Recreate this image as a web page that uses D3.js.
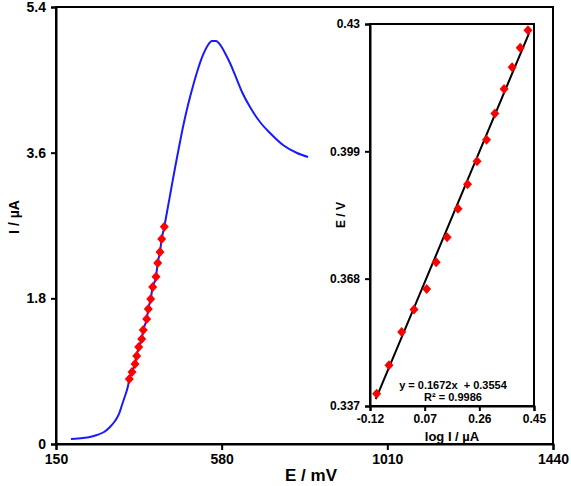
<!DOCTYPE html>
<html>
<head>
<meta charset="utf-8">
<script src="https://cdn.jsdelivr.net/npm/d3@7"></script>
<style>
  html, body { margin: 0; padding: 0; background: #fff; }
  svg { display: block; font-family: "Liberation Sans", Arial, sans-serif; font-weight: bold; }
</style>
</head>
<body>
<svg id="chart" width="571" height="486"></svg>
<script>
// ---- Main voltammogram (E / mV vs I / µA) ----
const curveE = [188.9, 207.1, 220.1, 238.3, 256.4, 274.6, 290.2, 303.1, 313.5, 321.3, 329.1, 336.9,
  340.3, 347.3, 355.1, 359.5, 364.7, 372.4, 376.6, 385.4, 389.6, 395.8, 401.0, 409.6, 414.0, 419.9, 424.3, 431.1,
  438.1, 448.5, 458.9, 469.3, 479.6, 492.6, 505.6, 518.6, 531.6, 544.6, 554.9, 565.3, 578.3, 591.3, 601.6, 614.6, 632.8,
  653.6, 679.5, 705.5, 739.2, 775.5, 804.1];
const curveI = [0.062, 0.068, 0.074, 0.087, 0.111, 0.148, 0.210, 0.284, 0.371, 0.482, 0.593, 0.717,
  0.803, 0.890, 0.989, 1.087, 1.199, 1.297, 1.409, 1.545, 1.668, 1.792, 1.940, 2.067, 2.237, 2.373, 2.533, 2.685,
  2.867, 3.139, 3.411, 3.670, 3.917, 4.189, 4.424, 4.634, 4.807, 4.931, 4.980, 4.980, 4.918, 4.807, 4.708, 4.560, 4.350,
  4.164, 3.979, 3.843, 3.695, 3.596, 3.546];
// highlighted points (red diamonds) on the rising part
const markE = [340.3, 347.3, 355.1, 359.5, 364.7, 372.4, 376.6, 385.4, 389.6, 395.8, 401.0, 409.6, 414.0, 419.9, 424.3, 431.1];
const markI = [0.803, 0.890, 0.989, 1.087, 1.199, 1.297, 1.409, 1.545, 1.668, 1.792, 1.940, 2.067, 2.237, 2.373, 2.533, 2.685];
const mainXTicks = [150, 580, 1010, 1440];
const mainYTicks = [0, 1.8, 3.6, 5.4];

// ---- Inset (log I / µA vs E / V) ----
const logI = [-0.097, -0.054, -0.010, 0.033, 0.077, 0.110, 0.148, 0.186, 0.219, 0.252, 0.285, 0.314, 0.346, 0.374, 0.402, 0.429];
const insetE = [0.3400, 0.3469, 0.3550, 0.3605, 0.3655, 0.3720, 0.3781, 0.3850, 0.3910, 0.3966, 0.4018, 0.4082, 0.4142, 0.4195, 0.4242, 0.4285];
const insetXTicks = [-0.12, 0.07, 0.26, 0.45];
const insetYTicks = [0.337, 0.368, 0.399, 0.43];
const fitSlope = [0.1672];
const fitIntercept = [0.3554];
const fitRange = [-0.100, 0.433];
const eqLines = ["y = 0.1672x  + 0.3554", "R\u00b2 = 0.9986"];

const svg = d3.select("#chart");

// main scales
const x = d3.scaleLinear().domain([150, 1440]).range([56, 553]);
const y = d3.scaleLinear().domain([0, 5.4]).range([444, 7]);

// frame (top and right)
svg.append("rect").attr("x", 56).attr("y", 7).attr("width", 553 - 56).attr("height", 444 - 7)
  .attr("fill", "none").attr("stroke", "#000").attr("stroke-width", 2);

const xAxis = svg.append("g").attr("transform", "translate(0,444)")
  .call(d3.axisBottom(x).tickValues(mainXTicks).tickFormat(d3.format("d")).tickSize(6).tickPadding(4));
const yAxis = svg.append("g").attr("transform", "translate(56,0)")
  .call(d3.axisLeft(y).tickValues(mainYTicks).tickFormat(d => d === 0 ? "0" : d3.format(".1f")(d)).tickSize(5).tickPadding(5));
[xAxis, yAxis].forEach(g => {
  g.select(".domain").attr("stroke-width", 2);
  g.selectAll(".tick line").attr("stroke-width", 2);
  g.selectAll("text").attr("font-size", 14).attr("font-weight", "bold").attr("fill", "#000")
    .attr("font-family", "Liberation Sans, Arial, sans-serif");
});

svg.append("text").attr("x", 311).attr("y", 481).attr("text-anchor", "middle")
  .attr("font-size", 17).text("E / mV");
svg.append("text").attr("transform", "translate(19,217) rotate(-90)").attr("text-anchor", "middle")
  .attr("font-size", 14).text("I / \u00b5A");

// blue curve
const line = d3.line().x((d, i) => x(curveE[i])).y((d, i) => y(curveI[i])).curve(d3.curveMonotoneX);
svg.append("path").datum(curveE).attr("d", line).attr("fill", "none")
  .attr("stroke", "#1a1aff").attr("stroke-width", 2);

const diamond = "M0,-5L4.5,0L0,5L-4.5,0Z";
svg.append("g").selectAll("path").data(markE).join("path")
  .attr("d", diamond).attr("fill", "#ff0000")
  .attr("transform", (d, i) => `translate(${x(d)},${y(markI[i])})`);

// ---- inset ----
const ix = d3.scaleLinear().domain([-0.12, 0.45]).range([370, 534]);
const iy = d3.scaleLinear().domain([0.337, 0.43]).range([406, 24]);

svg.append("rect").attr("x", 370).attr("y", 24).attr("width", 534 - 370).attr("height", 406 - 24)
  .attr("fill", "#fff").attr("stroke", "#000").attr("stroke-width", 2);

const ixAxis = svg.append("g").attr("transform", "translate(0,406)")
  .call(d3.axisBottom(ix).tickValues(insetXTicks).tickFormat(d3.format(".2f")).tickSize(5).tickPadding(3));
const iyAxis = svg.append("g").attr("transform", "translate(370,0)")
  .call(d3.axisLeft(iy).tickValues(insetYTicks).tickFormat(d => String(d)).tickSize(5).tickPadding(5));
[ixAxis, iyAxis].forEach(g => {
  g.select(".domain").attr("stroke-width", 2);
  g.selectAll(".tick line").attr("stroke-width", 2);
  g.selectAll("text").attr("font-size", 12).attr("font-weight", "bold").attr("fill", "#000")
    .attr("font-family", "Liberation Sans, Arial, sans-serif");
});
ixAxis.selectAll("text").text(d => d3.format(".2f")(d).replace("\u2212", "-"));

svg.append("text").attr("x", 452).attr("y", 441).attr("text-anchor", "middle")
  .attr("font-size", 13).text("log I / \u00b5A");
svg.append("text").attr("transform", "translate(345,215) rotate(-90)").attr("text-anchor", "middle")
  .attr("font-size", 12).text("E / V");

// fitted line
svg.append("line")
  .attr("x1", ix(fitRange[0])).attr("y1", iy(fitSlope[0] * fitRange[0] + fitIntercept[0]))
  .attr("x2", ix(fitRange[1])).attr("y2", iy(fitSlope[0] * fitRange[1] + fitIntercept[0]))
  .attr("stroke", "#000").attr("stroke-width", 2);

svg.append("g").selectAll("path").data(logI).join("path")
  .attr("d", diamond).attr("fill", "#ff0000")
  .attr("transform", (d, i) => `translate(${ix(d)},${iy(insetE[i])})`);

svg.append("g").selectAll("text").data(eqLines).join("text")
  .attr("x", 453).attr("y", (d, i) => 389 + i * 12).attr("text-anchor", "middle")
  .attr("font-size", 11).attr("xml:space", "preserve").style("white-space", "pre").text(d => d);
</script>
</body>
</html>
